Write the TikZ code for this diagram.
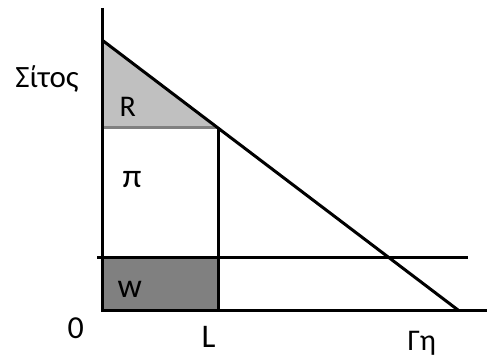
\documentclass[tikz,border=0pt]{standalone}
\usepackage{fontspec}
\setmainfont{Carlito}
\definecolor{rentgray}{RGB}{192,192,192}
\definecolor{wagegray}{RGB}{128,128,128}
\begin{document}
\begin{tikzpicture}[x=1pt,y=1pt,line width=3pt,
  lbl/.style={inner sep=0pt,anchor=base west}]
  \useasboundingbox (0,0) rectangle (487,359);
  \coordinate (O) at (102,49);
  \coordinate (ytop) at (102,351);
  \coordinate (xend) at (487,49);
  \coordinate (D1) at (102,319);
  \coordinate (D2) at (458,49);
  \coordinate (P) at (218,231);
  \coordinate (Pl) at (102,231);
  \coordinate (L) at (218,49);
  \coordinate (Wl) at (97,102);
  \coordinate (Wm) at (218,102);
  \coordinate (Wr) at (468,102);
  \fill[rentgray] (D1) -- (Pl) -- (P) -- cycle;
  \fill[wagegray] (O) rectangle (Wm);
  \draw[wagegray] (Pl) -- (P);
  \draw (P) -- (L);
  \draw (Wl) -- (Wr);
  \draw (ytop) -- (O) -- (xend);
  \draw (D1) -- (D2);
  \node[lbl,font=\fontsize{31}{36}\selectfont] (sitos) at (14,271) {Σίτος};
  \node[lbl,font=\fontsize{30}{36}\selectfont] (R) at (118,242) {R};
  \node[lbl,font=\fontsize{34}{40}\selectfont] (pi) at (121,171) {π};
  \node[lbl,font=\fontsize{34}{40}\selectfont] (w) at (116,62) {w};
  \node[lbl,font=\fontsize{32}{38}\selectfont] (zero) at (66,21) {0};
  \node[lbl,font=\fontsize{33}{38}\selectfont] (Llbl) at (200,12) {L};
  \node[lbl,font=\fontsize{30}{36}\selectfont] (gi) at (406,9) {Γη};
\end{tikzpicture}
\end{document}
